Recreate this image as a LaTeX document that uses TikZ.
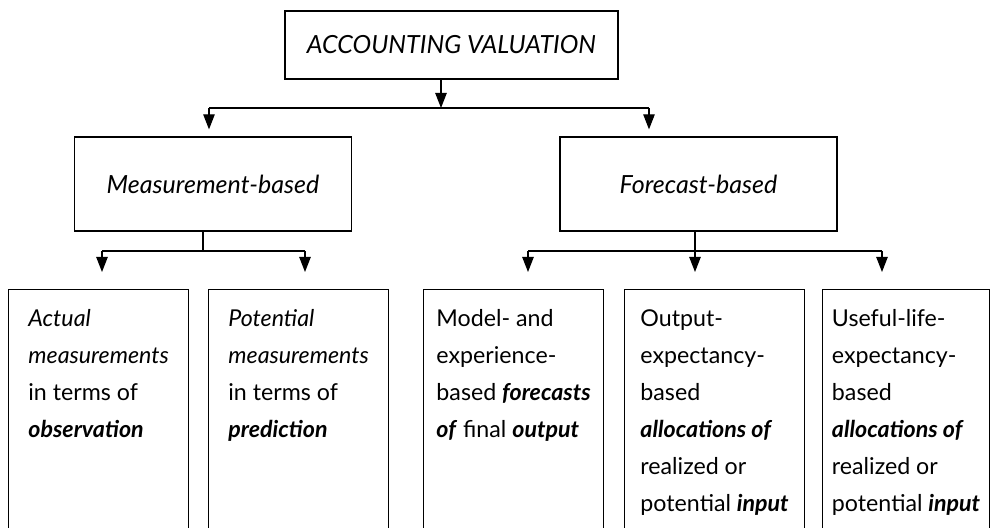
\documentclass[tikz,border=0pt]{standalone}
\usepackage{fontspec}
\setmainfont{Lato}
\usetikzlibrary{arrows.meta}
\newcommand{\bfit}[1]{\textbf{\textit{#1}}}
\begin{document}
\begin{tikzpicture}[x=0.5pt,y=-0.5pt,line width=0.6pt,
		arr/.style={-{Triangle[width=5.7pt,length=7.5pt]}},
		head/.style={draw, minimum height=47pt, font=\fontsize{12.5}{14}\selectfont\itshape},
		leaf/.style={draw, anchor=north west, inner xsep=0pt, inner ysep=10pt, minimum width=90pt, align=left,
			font=\fontsize{11.6}{18.5}\selectfont,
			execute at end node={\rule[-130pt]{0pt}{0pt}}}]
		\useasboundingbox (0,0) rectangle (991,528);
		\clip (0,0) rectangle (991,528);
		
		\node[head, minimum width=166.5pt, minimum height=34pt] (top) at (451.5,45) {ACCOUNTING VALUATION};
		
		\node[head, minimum width=138.2pt] (meas) at (213,184) {Measurement-based};
		\node[head, minimum width=138.5pt] (fore) at (698.5,184) {Forecast-based};
		
		\node[leaf] (actual) at (8,289) {\textit{Actual}\\\textit{measurements}\\in terms of\\\bfit{observation}};
		\node[leaf] (potential) at (208,289) {\textit{Potential}\\\textit{measurements}\\in terms of\\\bfit{prediction}};
		\node[leaf] (model) at (423,289) {Model- and\\experience-\\based \bfit{forecasts}\\\bfit{of} final \bfit{output}};
		\node[leaf] (output) at (624,289) {Output-\\expectancy-\\based\\\bfit{allocations of}\\realized or\\potential \bfit{input}};
		\node[leaf, minimum width=83.5pt] (useful) at (822,289) {Useful-life-\\expectancy-\\based\\\bfit{allocations of}\\realized or\\potential \bfit{input}};
		
		\coordinate (topsplit) at (441,108);
		\coordinate (ml) at (209,108);
		\coordinate (fr) at (649,108);
		\draw[arr] (top.south -| topsplit) -- (topsplit);
		\draw (ml) -- (fr);
		\draw[arr, shorten >=3.5pt] (ml) -- (ml |- meas.north);
		\draw[arr, shorten >=3.5pt] (fr) -- (fr |- fore.north);
		
		\coordinate (msplit) at (203,251);
		\coordinate (a1) at (102,251);
		\coordinate (a2) at (305,251);
		\draw (meas.south -| msplit) -- (msplit);
		\draw (a1) -- (a2);
		\draw[arr, shorten >=8.5pt] (a1) -- (a1 |- actual.north);
		\draw[arr, shorten >=8.5pt] (a2) -- (a2 |- potential.north);
		
		\coordinate (fsplit) at (695,251);
		\coordinate (b1) at (528,251);
		\coordinate (b3) at (882,251);
		\draw (fore.south -| fsplit) -- (fsplit);
		\draw (b1) -- (b3);
		\draw[arr, shorten >=8.5pt] (b1) -- (b1 |- model.north);
		\draw[arr, shorten >=8.5pt] (fsplit) -- (fsplit |- output.north);
		\draw[arr, shorten >=8.5pt] (b3) -- (b3 |- useful.north);

	\end{tikzpicture}
\end{document}
